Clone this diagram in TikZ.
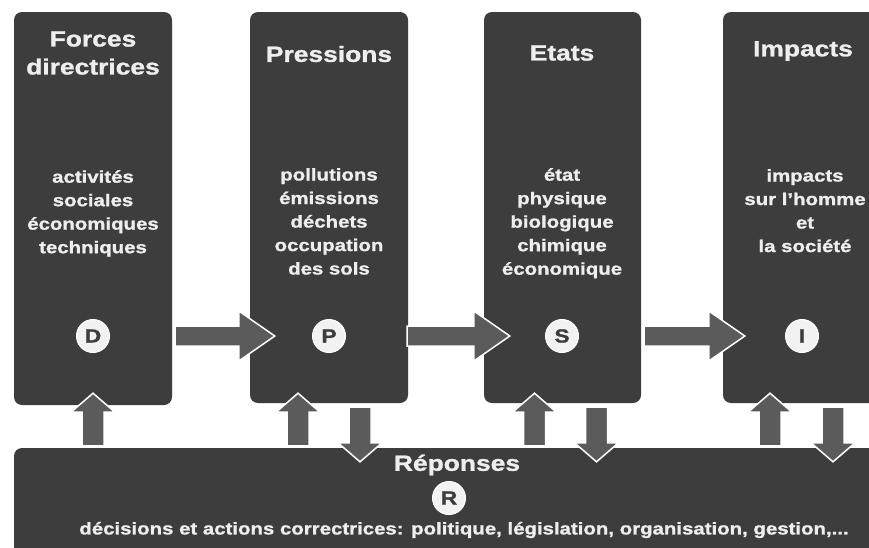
\documentclass[tikz,border=0pt]{standalone}
\usepackage{fontspec}
\setmainfont{Liberation Sans}[FakeStretch=1.2, BoldFeatures={FakeBold=1.2}]
\usetikzlibrary{calc,positioning}

\definecolor{boxgray}{HTML}{3D3D3D}
\definecolor{arrowgray}{HTML}{5B5B5B}
\definecolor{textgray}{HTML}{EEEEEE}
\definecolor{discgray}{HTML}{F2F2F2}

\tikzset{
  stage/.style={fill=boxgray, rounded corners=8pt, inner sep=0pt},
  title/.style={text=textgray, align=center, inner sep=0pt,
    font=\bfseries\fontsize{22}{28}\selectfont},
  body/.style={text=textgray, align=center, inner sep=0pt, anchor=north,
    font=\bfseries\fontsize{17}{23.5}\selectfont},
  letter/.style={circle, fill=discgray, draw=white, line width=1pt,
    minimum size=33pt, inner sep=0pt,
    text=boxgray, font=\bfseries\fontsize{19}{19}\selectfont},
  flowstyle/.style={fill=arrowgray, draw=white, line width=1.5pt, line join=miter}
}

% block arrow from #1 to #2: shaft half width #3, head half width #4, head length #5
\newcommand{\flowarrow}[5]{%
  \coordinate (fb) at ($(#2)!#5!(#1)$);
  \filldraw[flowstyle] ($(#1)!#3!90:(#2)$) -- ($(fb)!#3!90:(#2)$)
    -- ($(fb)!#4!90:(#2)$) -- (#2) -- ($(fb)!#4!-90:(#2)$)
    -- ($(fb)!#3!-90:(#2)$) -- ($(#1)!#3!-90:(#2)$) -- cycle;
}

\begin{document}
\begin{tikzpicture}[x=1pt, y=-1pt]

  % page frame
  \useasboundingbox (0,0) rectangle (869,547);
  \fill[white] (0,0) rectangle (869,547);
  \clip (0,0) rectangle (869,547);

  % the four stage boxes
  \node[stage, minimum width=158pt, minimum height=393pt] (drv) at (93,208.5) {};
  \node[stage, minimum width=158pt, minimum height=391pt] (prs) at (329,207.5) {};
  \node[stage, minimum width=157pt, minimum height=391pt] (etat) at (562.5,207.5) {};
  \node[stage, minimum width=158pt, minimum height=391pt] (imp) at (802,207.5) {};

  % the response box (runs off the page)
  \node[stage, minimum width=886pt, minimum height=132pt] (rep) at (457,514) {};

  % titles
  \node[title] (drvt) at (93,53) {Forces\\directrices};
  \node[title] (prst) at (329,54) {Pressions};
  \node[title] (etatt) at (562,53) {Etats};
  \node[title] (impt) at (803,51) {Impacts};

  % contents
  \node[body] (drvb) at (93,170) {activités\\sociales\\économiques\\techniques};
  \node[body] (prsb) at (329,168) {pollutions\\émissions\\déchets\\occupation\\des sols};
  \node[body] (etatb) at (562,168) {état\\physique\\biologique\\chimique\\économique};
  \node[body] (impb) at (805,169) {impacts\\sur l'homme\\et\\la société};

  % letters
  \node[letter] (dl) at (93,336) {D};
  \node[letter] (pl) at (329,336) {P};
  \node[letter] (sl) at (562,336) {S};
  \node[letter] (il) at (802,336) {I};

  % horizontal flow
  \coordinate (dp1) at ($(drv.east |- dl)+(3,0)$);
  \coordinate (dp2) at ($(prs.west |- pl)+(25,0)$);
  \coordinate (ps1) at ($(prs.east |- pl)+(-1,0)$);
  \coordinate (ps2) at ($(etat.west |- sl)+(26,0)$);
  \coordinate (si1) at ($(etat.east |- sl)+(3,0)$);
  \coordinate (si2) at ($(imp.west |- il)+(22,0)$);
  \flowarrow{dp1}{dp2}{10pt}{25pt}{36pt}
  \flowarrow{ps1}{ps2}{10pt}{25pt}{36pt}
  \flowarrow{si1}{si2}{10pt}{25pt}{36pt}

  % arrows up from the responses
  \coordinate (du1) at ($(drv.south |- rep.north)+(0,-2)$);
  \coordinate (du2) at ($(drv.south)+(0,-12)$);
  \coordinate (pu1) at ($(prs.south |- rep.north)+(-31,-2)$);
  \coordinate (pu2) at ($(prs.south)+(-31,-10)$);
  \coordinate (su1) at ($(etat.south |- rep.north)+(-28,-2)$);
  \coordinate (su2) at ($(etat.south)+(-28,-10)$);
  \coordinate (iu1) at ($(imp.south |- rep.north)+(-32,-2)$);
  \coordinate (iu2) at ($(imp.south)+(-32,-10)$);
  \flowarrow{du1}{du2}{11pt}{22pt}{19pt}
  \flowarrow{pu1}{pu2}{11pt}{22pt}{19pt}
  \flowarrow{su1}{su2}{11pt}{22pt}{19pt}
  \flowarrow{iu1}{iu2}{11pt}{22pt}{19pt}

  % arrows down to the responses
  \coordinate (pd1) at ($(prs.south)+(31,4)$);
  \coordinate (pd2) at ($(prs.south |- rep.north)+(31,14)$);
  \coordinate (sd1) at ($(etat.south)+(34,4)$);
  \coordinate (sd2) at ($(etat.south |- rep.north)+(34,14)$);
  \coordinate (id1) at ($(imp.south)+(31,4)$);
  \coordinate (id2) at ($(imp.south |- rep.north)+(31,14)$);
  \flowarrow{pd1}{pd2}{11pt}{22pt}{19pt}
  \flowarrow{sd1}{sd2}{11pt}{22pt}{19pt}
  \flowarrow{id1}{id2}{11pt}{22pt}{19pt}

  % responses text
  \node[title] (rept) at (457,465) {Réponses};
  \node[letter] (rl) at (449,498) {R};
  \node[title, font=\bfseries\fontsize{17}{20}\selectfont] (repb) at (464,530)
    {décisions et actions correctrices: politique, législation, organisation, gestion,...};

\end{tikzpicture}
\end{document}
